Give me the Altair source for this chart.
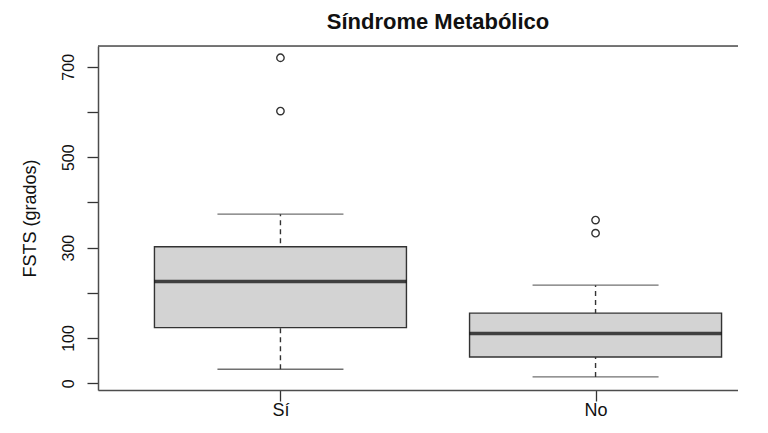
import altair as alt
import pandas as pd

# ---- data ----
groups = ["Sí", "No"]
q1 = [123, 58]
median = [225, 110]
q3 = [302, 155]
whisker_low = [31, 14]
whisker_high = [374, 217]

outlier_group = ["Sí", "Sí", "No", "No"]
outlier_value = [720, 602, 361, 332]

y_ticks = [0, 100, 200, 300, 400, 500, 600, 700]
y_labels_shown = [0, 100, 300, 500, 700]

boxes = pd.DataFrame({
    "grupo": groups,
    "q1": q1,
    "mediana": median,
    "q3": q3,
    "lo": whisker_low,
    "hi": whisker_high,
})
outliers = pd.DataFrame({"grupo": outlier_group, "valor": outlier_value})

FONT = "Liberation Sans"
LINE = "#333333"
FRAME = "#4d4d4d"
W, H = 640, 344      # visible plot area
FULL_W = 680         # R's plotting region continues past the page edge

label_expr = " || ".join(f"datum.value == {v}" for v in y_labels_shown)
label_expr = f"({label_expr}) ? datum.label : ''"

x_enc = alt.X(
    "grupo:N",
    sort=groups,
    scale=alt.Scale(type="point", domain=groups, padding=0.579, range=[0, FULL_W]),
    axis=alt.Axis(
        title=None, labelAngle=0, labelFontSize=18, labelFont=FONT, labelColor="#111111",
        labelBaseline="alphabetic", labelPadding=14, tickSize=11, tickColor=LINE,
        tickWidth=1.3, domain=True, domainColor=FRAME, domainWidth=1.5, grid=False,
    ),
)

y_scale = alt.Scale(domain=[-15, 746], nice=False, zero=False)
y_axis = alt.Axis(
    values=y_ticks, labelExpr=label_expr, labelAngle=270, labelFontSize=16, labelFont=FONT,
    labelColor="#111111", labelPadding=11, labelOverlap=False, tickSize=11, tickColor=LINE,
    tickWidth=1.3, domain=True, domainColor=FRAME, domainWidth=1.5, grid=False,
    title="FSTS (grados)", titleFont=FONT,
    titleFontSize=18, titleFontWeight="normal", titleColor="#111111", titleAngle=270,
    titleBaseline="alphabetic", titleX=-63, titleY=172,
)

base = alt.Chart(boxes)

whisk = base.mark_rule(color=LINE, strokeWidth=1.4, strokeDash=[5, 4]).encode(
    x=x_enc,
    y=alt.Y("lo:Q", scale=y_scale, axis=y_axis),
    y2="hi:Q",
)

caps = base.transform_fold(["lo", "hi"], as_=["k", "v"]).mark_tick(
    color=LINE, size=126, thickness=1.4
).encode(x=x_enc, y=alt.Y("v:Q", scale=y_scale))

box = base.mark_bar(size=252, fill="#D3D3D3", stroke=LINE, strokeWidth=1.4).encode(
    x=x_enc, y=alt.Y("q1:Q", scale=y_scale), y2="q3:Q"
)

med = base.mark_tick(color="#000000", size=252, thickness=3.5).encode(
    x=x_enc, y=alt.Y("mediana:Q", scale=y_scale)
)

pts = alt.Chart(outliers).mark_point(
    shape="circle", filled=False, size=55, strokeWidth=1.4, color=LINE, opacity=1
).encode(x=x_enc, y=alt.Y("valor:Q", scale=y_scale))

# top edge of the box frame around the plotting region
frame_top = alt.Chart(pd.DataFrame({"f": [0]})).mark_rule(
    color=FRAME, strokeWidth=1.5
).encode(x=alt.value(0), x2=alt.value(FULL_W), y=alt.value(0))

chart = alt.layer(whisk, caps, box, med, pts, frame_top).properties(
    width=W,
    height=H,
    title=alt.Title(
        "Síndrome Metabólico", font=FONT, fontSize=22, fontWeight="bold",
        color="#111111", anchor="middle", offset=11, dx=20,
    ),
    autosize=alt.AutoSizeParams(type="none"),
    padding={"left": 90, "top": 38, "right": 0, "bottom": 29},
).configure_view(stroke="transparent").configure(background="white")

chart.save("out.html", embed_options={"renderer": "svg", "actions": False})
